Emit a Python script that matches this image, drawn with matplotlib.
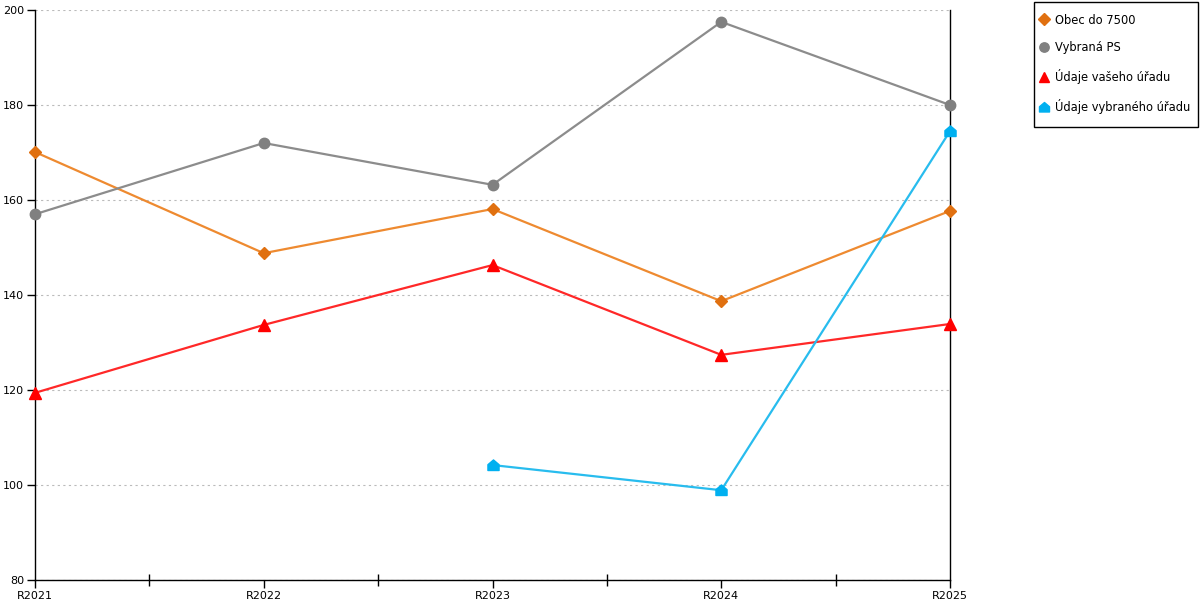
import matplotlib
matplotlib.use("Agg")
import matplotlib.pyplot as plt
from matplotlib.path import Path
from matplotlib.patches import Rectangle
from matplotlib.ticker import MultipleLocator, FixedLocator
import numpy as np

categories = ["R2021", "R2022", "R2023", "R2024", "R2025"]
obec = [170.1, 148.8, 158.1, 138.7, 157.7]
vybrana_ps = [157.0, 172.0, 163.2, 197.5, 180.0]
vas_urad = [119.4, 133.7, 146.3, 127.4, 133.9]
vybrany_urad = [np.nan, np.nan, 104.2, 98.9, 174.5]

labels = ["Obec do 7500", "Vybraná PS", "Údaje vašeho úřadu", "Údaje vybraného úřadu"]

house = Path([(-1, -0.9), (1, -0.9), (1, 0.15), (0, 1.0), (-1, 0.15), (-1, -0.9)],
             [Path.MOVETO, Path.LINETO, Path.LINETO, Path.LINETO, Path.LINETO, Path.CLOSEPOLY])

plt.rcParams['font.family'] = ['DejaVu Sans']
fig = plt.figure(figsize=(12, 6), dpi=100)
ax = fig.add_axes([35/1200, 20/600, 915/1200, 570/600])

x = np.arange(len(categories))
common = dict(lw=1.6, zorder=3, clip_on=False)
ax.plot(x, obec, color="#EE8A30", marker="D", ms=6.5, mfc="#E07010", mec="#E07010", label=labels[0], **common)
ax.plot(x, vybrana_ps, color="#8C8C8C", marker="o", ms=7.5, mfc="#808080", mec="#808080", label=labels[1], **common)
ax.plot(x, vas_urad, color="#FF2828", marker="^", ms=8.5, mfc="#FF0000", mec="#FF0000", label=labels[2], **common)
ax.plot(x, vybrany_urad, color="#28BCEE", marker=house, ms=8, mfc="#00B0F0", mec="#00B0F0", label=labels[3], **common)

ax.set_xlim(0, len(categories) - 1)
ax.set_ylim(80, 200)
ax.yaxis.set_major_locator(MultipleLocator(20))
ax.set_xticks(x)
ax.set_xticklabels(categories, fontsize=8)
ax.xaxis.set_minor_locator(FixedLocator(x[:-1] + 0.5))
ax.tick_params(axis='x', which='major', direction='out', length=6, width=1, pad=2)
ax.tick_params(axis='x', which='minor', direction='inout', length=8, width=1)
ax.tick_params(axis='y', which='major', direction='out', length=6, width=1, labelsize=8, pad=2)
ax.tick_params(axis='y', right=False)

for s in ["left", "right", "bottom"]:
    ax.spines[s].set_color("black")
    ax.spines[s].set_linewidth(1)
ax.spines["top"].set_visible(False)

ax.grid(axis='y', color="#BBBBBB", linestyle=(0, (2, 3)), linewidth=0.8)
ax.set_axisbelow(True)

# legend frame
fig.patches.append(Rectangle((1034/1200, (600-127)/600), 164/1200, 125/600,
                             transform=fig.transFigure, fill=False, edgecolor="black", lw=1))
handles, lbls = ax.get_legend_handles_labels()
leg = fig.legend(handles, lbls, loc="upper left", bbox_to_anchor=(1040.5/1200, (600-13.5)/600),
                 frameon=False, fontsize=8.3, handlelength=0.6, handletextpad=0.66,
                 labelspacing=1.28, borderpad=0, borderaxespad=0, numpoints=1, markerscale=0.9)
for h in leg.get_lines():
    h.set_linestyle("none")

fig.savefig("out.png", dpi=100)
